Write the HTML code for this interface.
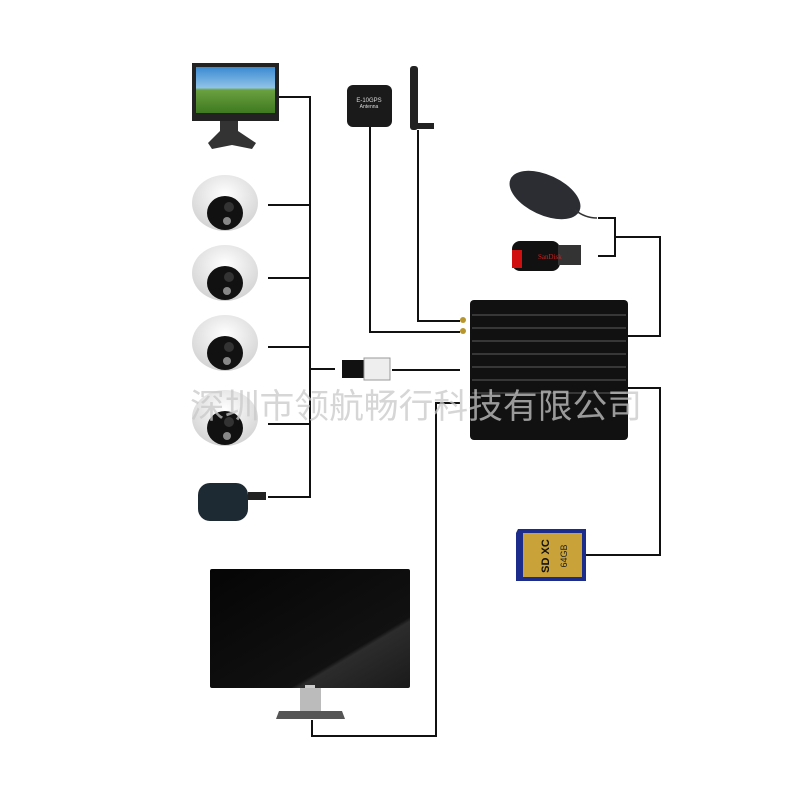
<!DOCTYPE html><html><head><meta charset="utf-8"><style>html,body{margin:0;padding:0;background:#fff}</style></head><body>
<svg width="800" height="800" xmlns="http://www.w3.org/2000/svg">
<defs>
<linearGradient id="sky" x1="0" y1="0" x2="0" y2="1"><stop offset="0" stop-color="#3a8ad0"/><stop offset="0.45" stop-color="#8fc3e8"/><stop offset="0.5" stop-color="#6aa040"/><stop offset="1" stop-color="#3f7a20"/></linearGradient>
<linearGradient id="scr" x1="0" y1="0" x2="1" y2="1"><stop offset="0" stop-color="#050505"/><stop offset="0.7" stop-color="#111"/><stop offset="0.72" stop-color="#2c2c2c"/><stop offset="1" stop-color="#1a1a1a"/></linearGradient>
<radialGradient id="dome" cx="0.5" cy="0.35" r="0.7"><stop offset="0" stop-color="#fff"/><stop offset="1" stop-color="#cfcfcf"/></radialGradient>
</defs>
<g fill="none" stroke="#111" stroke-width="2">
<polyline points="278,97 310,97 310,497 268,497"/>
<line x1="268" y1="205" x2="310" y2="205"/><line x1="268" y1="278" x2="310" y2="278"/><line x1="268" y1="347" x2="310" y2="347"/><line x1="268" y1="424" x2="310" y2="424"/>
<line x1="310" y1="369" x2="335" y2="369"/><line x1="392" y1="370" x2="460" y2="370"/>
<polyline points="370,127 370,332 460,332"/>
<polyline points="418,130 418,321 460,321"/>
<polyline points="598,218 615,218 615,256 598,256"/>
<polyline points="615,237 660,237 660,336 628,336"/>
<polyline points="628,388 660,388 660,555 586,555"/>
<polyline points="312,720 312,736 436,736 436,403 460,403"/>
</g>
<!-- small monitor -->
<rect x="192" y="63" width="87" height="58" fill="#222"/><rect x="196" y="67" width="79" height="46" fill="url(#sky)"/>
<path d="M220 121h18v10l18 12-4 6-20-4-20 4-4-6 12-12z" fill="#333"/>
<!-- cameras -->
<g>
<g transform="translate(225,205)"><ellipse cx="0" cy="-2" rx="33" ry="28" fill="url(#dome)"/><ellipse cx="0" cy="8" rx="18" ry="17" fill="#111"/><circle cx="4" cy="2" r="5" fill="#333"/><circle cx="2" cy="16" r="4" fill="#888"/></g>
<g transform="translate(225,275)"><ellipse cx="0" cy="-2" rx="33" ry="28" fill="url(#dome)"/><ellipse cx="0" cy="8" rx="18" ry="17" fill="#111"/><circle cx="4" cy="2" r="5" fill="#333"/><circle cx="2" cy="16" r="4" fill="#888"/></g>
<g transform="translate(225,345)"><ellipse cx="0" cy="-2" rx="33" ry="28" fill="url(#dome)"/><ellipse cx="0" cy="8" rx="18" ry="17" fill="#111"/><circle cx="4" cy="2" r="5" fill="#333"/><circle cx="2" cy="16" r="4" fill="#888"/></g>
<g transform="translate(225,420)"><ellipse cx="0" cy="-2" rx="33" ry="28" fill="url(#dome)"/><ellipse cx="0" cy="8" rx="18" ry="17" fill="#111"/><circle cx="4" cy="2" r="5" fill="#333"/><circle cx="2" cy="16" r="4" fill="#888"/></g>
</g>
<!-- mic -->
<rect x="198" y="483" width="50" height="38" rx="12" fill="#1e2a33"/><path d="M248 492h18v8h-18z" fill="#222"/>
<!-- rj45 -->
<rect x="342" y="360" width="22" height="18" fill="#111"/><rect x="364" y="358" width="26" height="22" fill="#eee" stroke="#999"/>
<!-- gps -->
<rect x="347" y="85" width="45" height="42" rx="6" fill="#1a1a1a"/>
<text x="369" y="102" font-family="Liberation Sans" font-size="6" fill="#ddd" text-anchor="middle">E-10GPS</text>
<text x="369" y="108" font-family="Liberation Sans" font-size="5" fill="#ddd" text-anchor="middle">Antenna</text>
<!-- antenna -->
<rect x="410" y="66" width="8" height="64" rx="3" fill="#222"/><rect x="416" y="123" width="18" height="6" fill="#222"/>
<!-- mouse -->
<ellipse cx="545" cy="195" rx="38" ry="20" transform="rotate(25 545 195)" fill="#2b2d33"/>
<path d="M575 210q10 8 22 8" stroke="#333" fill="none" stroke-width="1.5"/>
<!-- usb -->
<rect x="512" y="241" width="48" height="30" rx="8" fill="#111"/><rect x="512" y="250" width="10" height="18" fill="#d01010"/><rect x="558" y="245" width="23" height="20" fill="#333"/>
<text x="538" y="259" font-family="Liberation Serif" font-size="7" fill="#d02020">SanDisk</text>
<!-- DVR -->
<rect x="470" y="300" width="158" height="140" rx="4" fill="#111"/>
<g stroke="#444" stroke-width="1.5"><line x1="472" y1="315" x2="626" y2="315"/><line x1="472" y1="328" x2="626" y2="328"/><line x1="472" y1="341" x2="626" y2="341"/><line x1="472" y1="354" x2="626" y2="354"/><line x1="472" y1="367" x2="626" y2="367"/><line x1="472" y1="380" x2="626" y2="380"/><line x1="472" y1="393" x2="626" y2="393"/></g>
<circle cx="463" cy="320" r="3" fill="#b8962e"/><circle cx="463" cy="331" r="3" fill="#b8962e"/>
<!-- sd -->
<path d="M518 529h68v52h-70v-48z" fill="#1b2c8a"/><rect x="523" y="533" width="59" height="44" fill="#c9a23a"/>
<text x="545" y="560" font-family="Liberation Sans" font-size="11" font-weight="bold" fill="#111" transform="rotate(-90 545 556)" text-anchor="middle">SD XC</text>
<text x="567" y="556" font-family="Liberation Sans" font-size="9" fill="#222" transform="rotate(-90 567 556)" text-anchor="middle">64GB</text>
<!-- big monitor -->
<rect x="210" y="569" width="200" height="119" rx="2" fill="url(#scr)"/>
<rect x="300" y="688" width="21" height="23" fill="#bbb"/>
<path d="M279 711h63l3 8h-69z" fill="#555"/>
<rect x="305" y="685" width="10" height="3" fill="#ccc"/>
<!-- watermark -->
<text x="190" y="418" font-family="Liberation Sans, Noto Sans CJK SC, sans-serif" font-size="34" fill="#c8c8c8" fill-opacity="0.75" textLength="452" lengthAdjust="spacingAndGlyphs">深圳市领航畅行科技有限公司</text>
</svg>
</body></html>
